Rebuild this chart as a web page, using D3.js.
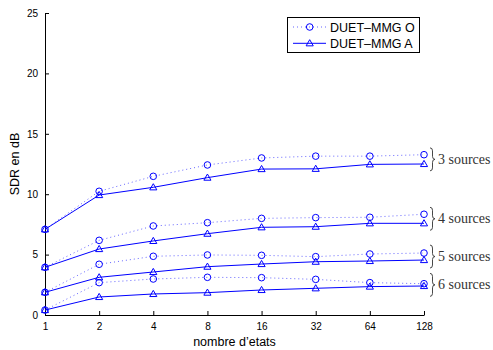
<!DOCTYPE html>
<html>
<head>
<meta charset="utf-8">
<script src="https://cdn.jsdelivr.net/npm/d3@7"></script>
<style>
html,body{margin:0;padding:0;background:#fff;}
svg{display:block;}
</style>
</head>
<body>
<svg id="chart" width="493" height="350"></svg>
<script>
const states = [1, 2, 4, 8, 16, 32, 64, 128];
const yTicks = [0, 5, 10, 15, 20, 25];
const groupLabels = ["3 sources", "4 sources", "5 sources", "6 sources"];
// DUET-MMG O (dotted, circles)
const O3 = [7.09, 10.24, 11.48, 12.42, 13.0, 13.15, 13.15, 13.27];
const O4 = [3.95, 6.18, 7.37, 7.64, 8.0, 8.06, 8.09, 8.34];
const O5 = [1.88, 4.2, 4.86, 4.97, 4.94, 4.83, 5.05, 5.13];
const O6 = [0.41, 2.68, 2.98, 3.12, 3.09, 2.95, 2.68, 2.59];
// DUET-MMG A (solid, triangles)
const A3 = [7.09, 9.93, 10.57, 11.37, 12.08, 12.1, 12.47, 12.5];
const A4 = [3.95, 5.46, 6.13, 6.73, 7.26, 7.31, 7.59, 7.59];
const A5 = [1.88, 3.12, 3.56, 4.0, 4.22, 4.41, 4.47, 4.55];
const A6 = [0.41, 1.49, 1.74, 1.85, 2.07, 2.21, 2.35, 2.4];
const seriesNames = ["DUET\u2013MMG O", "DUET\u2013MMG A"];

const Ogroups = [O3, O4, O5, O6];
const Agroups = [A3, A4, A5, A6];

const svg = d3.select("#chart");
const pL = 45, pR = 424, pT = 13, pB = 315;
const x = d3.scaleLog().base(2).domain([1, 128]).range([pL, pR]);
const y = d3.scaleLinear().domain([0, 25]).range([pB, pT]);
const blue = "#0000ff";
const sans = "'Liberation Sans', Arial, Helvetica, sans-serif";
const serif = "'Liberation Serif', 'DejaVu Serif', serif";

// axes
const xAxis = d3.axisBottom(x).tickValues(states).tickFormat(d3.format("d")).tickSizeInner(-4).tickSizeOuter(0).tickPadding(8);
const gx = svg.append("g").attr("transform", `translate(0,${pB})`).call(xAxis);
const yAxis = d3.axisLeft(y).tickValues(yTicks).tickSizeInner(-4).tickSizeOuter(0).tickPadding(7);
const gy = svg.append("g").attr("transform", `translate(${pL},0)`).call(yAxis);
[gx, gy].forEach(g => {
  g.select(".domain").attr("stroke", "#000").attr("stroke-width", 1);
  g.selectAll(".tick line").attr("stroke", "#000");
  g.selectAll("text").attr("font-family", sans).attr("font-size", 10).attr("fill", "#000");
});

svg.append("text").attr("x", (pL + pR) / 2).attr("y", 346)
  .attr("text-anchor", "middle").attr("font-family", sans).attr("font-size", 12.5).text("nombre d\u2019etats");
svg.append("text").attr("transform", `translate(19,${(pT + pB) / 2}) rotate(-90)`)
  .attr("text-anchor", "middle").attr("font-family", sans).attr("font-size", 12.5).text("SDR en dB");

const line = d3.line().x((d, i) => x(states[i])).y(d => y(d));
const tri = d3.symbol().type(d3.symbolTriangle).size(22);

function drawO(g, data) {
  g.append("path").datum(data).attr("d", line).attr("fill", "none")
    .attr("stroke", blue).attr("stroke-width", 1).attr("stroke-dasharray", "1,3").attr("opacity", 0.6);
  g.selectAll("circle.o").data(data).join("circle").attr("class", "o")
    .attr("cx", (d, i) => x(states[i])).attr("cy", d => y(d)).attr("r", 3.3)
    .attr("fill", "none").attr("stroke", blue).attr("stroke-width", 1);
}
function drawA(g, data) {
  g.append("path").datum(data).attr("d", line).attr("fill", "none")
    .attr("stroke", blue).attr("stroke-width", 1);
  g.selectAll("path.a").data(data).join("path").attr("class", "a")
    .attr("d", tri).attr("transform", (d, i) => `translate(${x(states[i])},${y(d) + 0.5})`)
    .attr("fill", "none").attr("stroke", blue).attr("stroke-width", 1);
}
const plot = svg.append("g");
Ogroups.forEach(d => drawO(plot.append("g"), d));
Agroups.forEach(d => drawA(plot.append("g"), d));

// braces + group labels
groupLabels.forEach((lab, k) => {
  const o = Ogroups[k], a = Agroups[k];
  const cy = y((o[o.length - 1] + a[a.length - 1]) / 2);
  const h = 11.5, x0 = 430, w = 5, m = x0 + w / 2;
  const p = `M${x0},${cy - h} Q${m},${cy - h} ${m},${cy - h + 3} L${m},${cy - 3} Q${m},${cy} ${x0 + w},${cy} Q${m},${cy} ${m},${cy + 3} L${m},${cy + h - 3} Q${m},${cy + h} ${x0},${cy + h}`;
  svg.append("path").attr("d", p).attr("fill", "none").attr("stroke", "#333").attr("stroke-width", 0.9);
  svg.append("text").attr("x", 438).attr("y", cy + 4.5).attr("font-family", serif)
    .attr("font-size", 14).attr("fill", "#333").text(lab);
});

// legend
const lg = svg.append("g");
lg.append("rect").attr("x", 287.5).attr("y", 17.5).attr("width", 132).attr("height", 35)
  .attr("fill", "#fff").attr("stroke", "#000").attr("stroke-width", 1);
const ly = [27, 43.3];
lg.append("line").attr("x1", 293).attr("x2", 326).attr("y1", ly[0]).attr("y2", ly[0])
  .attr("stroke", blue).attr("stroke-dasharray", "1,3").attr("opacity", 0.6);
lg.append("circle").attr("cx", 309.7).attr("cy", ly[0]).attr("r", 3.3).attr("fill", "none").attr("stroke", blue);
lg.append("line").attr("x1", 293).attr("x2", 326).attr("y1", ly[1]).attr("y2", ly[1]).attr("stroke", blue);
lg.append("path").attr("d", tri).attr("transform", `translate(309.7,${ly[1] + 0.5})`).attr("fill", "none").attr("stroke", blue);
seriesNames.forEach((n, i) => {
  lg.append("text").attr("x", 330).attr("y", ly[i] + 4.5).attr("font-family", sans)
    .attr("font-size", 12.5).text(n);
});
</script>
</body>
</html>
